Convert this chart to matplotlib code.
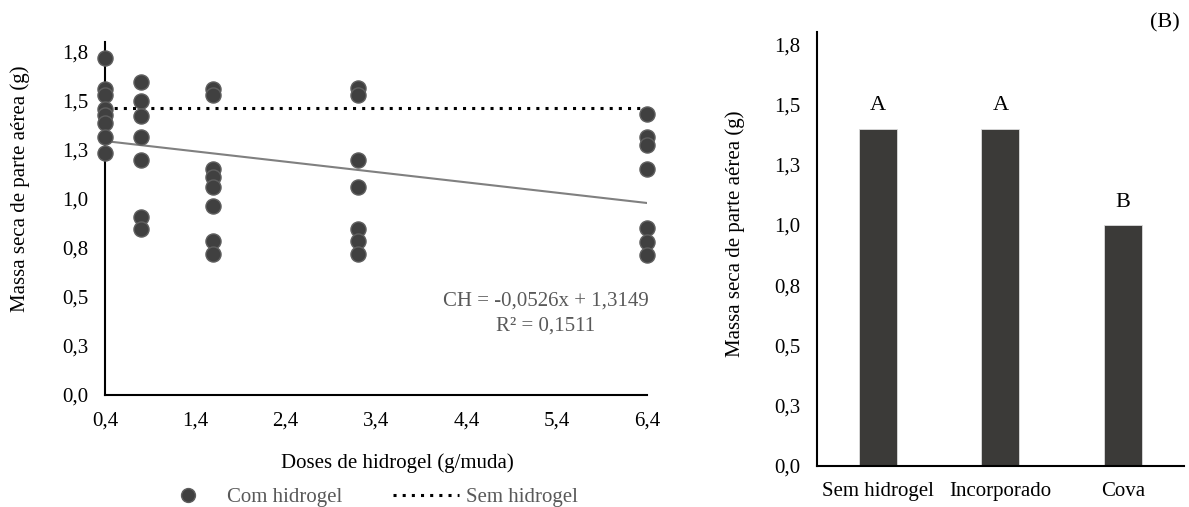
import numpy as np
import matplotlib
matplotlib.use("Agg")
from matplotlib import pyplot as plt
from matplotlib.lines import Line2D

plt.rcParams['font.family'] = ['Liberation Serif', 'DejaVu Serif']
plt.rcParams['font.size'] = 15

# (A) massa seca por dose de hidrogel
dose_04 = [1.716, 1.557, 1.529, 1.459, 1.426, 1.387, 1.315, 1.235]
dose_08 = [1.595, 1.498, 1.424, 1.317, 1.196, 0.906, 0.847]
dose_16 = [1.557, 1.529, 1.153, 1.109, 1.060, 0.961, 0.785, 0.717]
dose_32 = [1.566, 1.529, 1.196, 1.061, 0.845, 0.785, 0.719]
dose_64 = [1.430, 1.314, 1.276, 1.152, 0.850, 0.782, 0.714]
doses = [0.4, 0.8, 1.6, 3.2, 6.4]
sem_hidrogel = 1.462
slope = -0.0526
intercept = 1.3149

# (B) forma de aplicacao
categorias = ["Sem hidrogel", "Incorporado", "Cova"]
medias = [1.40, 1.40, 1.00]
letras = ["A", "A", "B"]

yticks = [0, 0.25, 0.5, 0.75, 1.0, 1.25, 1.5, 1.75]
ylabels = ["0,0", "0,3", "0,5", "0,8", "1,0", "1,3", "1,5", "1,8"]
xticks = [0.4, 1.4, 2.4, 3.4, 4.4, 5.4, 6.4]
xlabels = ["0,4", "1,4", "2,4", "3,4", "4,4", "5,4", "6,4"]

W, H = 1189, 507
fig = plt.figure(figsize=(W / 100, H / 100), dpi=100)

def box(x0, y0, x1, y1):
    return [x0 / W, 1 - y1 / H, (x1 - x0) / W, (y1 - y0) / H]

grey_txt = "#595959"
pt_col = "#404040"

ax = fig.add_axes(box(105, 41.7, 647, 395))
cols = [dose_04, dose_08, dose_16, dose_32, dose_64]
for d, vals in zip(doses, cols):
    ax.scatter([d] * len(vals), vals, s=118, color=pt_col, edgecolor="#5f5f5f",
               linewidth=1, zorder=3, clip_on=False)
ax.plot([doses[0], doses[-1]], [sem_hidrogel, sem_hidrogel], color="black",
        linestyle=(0, (1, 2)), linewidth=2.2, zorder=2)
xs = np.array([doses[0], doses[-1]])
ax.plot(xs, slope * xs + intercept, color="#808080", linewidth=1.5, zorder=2)
fig.text(546 / W, 1 - 313.5 / H, "CH = -0,0526x + 1,3149\nR² = 0,1511",
         ha="center", va="center", color=grey_txt, fontsize=15, linespacing=1.4)
ax.set_xlim(0.4, 6.4)
ax.set_ylim(0, 1.8)
ax.set_xticks(xticks)
ax.set_xticklabels(xlabels)
ax.set_yticks(yticks)
ax.set_yticklabels(ylabels)

ax2 = fig.add_axes(box(816.7, 32.3, 1184, 465.7))
xpos = np.arange(len(categorias))
ax2.bar(xpos, medias, width=0.31, color="#3b3a38", edgecolor="#dcdcdc",
        linewidth=0.6, zorder=2)
for x, v, l in zip(xpos, medias, letras):
    ax2.text(x, v + 0.095, l, ha="center", va="center", fontsize=16)
ax2.set_xlim(-0.5, 2.5)
ax2.set_ylim(0, 1.8)
ax2.set_xticks(xpos)
ax2.set_xticklabels(categorias)
ax2.set_yticks(yticks)
ax2.set_yticklabels(ylabels)

for a in (ax, ax2):
    for s in ("top", "right"):
        a.spines[s].set_visible(False)
    for s in ("left", "bottom"):
        a.spines[s].set_linewidth(1.5)
    a.tick_params(length=0, pad=12, labelsize=15)

fig.text(20 / W, 1 - 189 / H, "Massa seca de parte aérea (g)", rotation=90,
         ha="center", va="center", fontsize=15)
fig.text(735 / W, 1 - 234 / H, "Massa seca de parte aérea (g)", rotation=90,
         ha="center", va="center", fontsize=15)
fig.text(397 / W, 1 - 463 / H, "Doses de hidrogel (g/muda)", ha="center",
         va="center", fontsize=15)
fig.text(1165 / W, 1 - 23 / H, "(B)", ha="center", va="center", fontsize=16)

handles = [Line2D([], [], marker="o", linestyle="None", markersize=10,
                  color=pt_col, markeredgecolor="#5f5f5f"),
           Line2D([], [], color="black", linestyle=(0, (1, 2)), linewidth=2.2)]
fig.legend(handles, ["Com hidrogel", "Sem hidrogel"], loc="center",
           bbox_to_anchor=(366 / W, 1 - 497 / H), ncol=2, frameon=False,
           labelcolor=grey_txt, fontsize=15, handlelength=3.2,
           columnspacing=2.4, handletextpad=0.3)

fig.savefig("out.png", dpi=100)
